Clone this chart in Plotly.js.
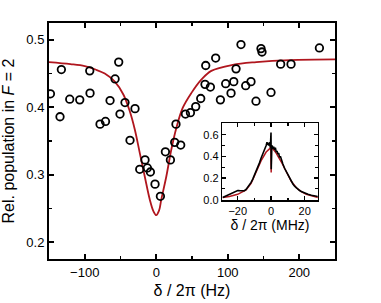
<!DOCTYPE html>
<html><head><meta charset="utf-8">
<script src="https://cdn.plot.ly/plotly-3.0.1.min.js"></script>
<style>body{margin:0;background:#fff}#chart{width:381px;height:303px}</style>
</head><body><div id="chart"></div>
<script>
// Main panel: measured points
const detuningHz = [-148, -134.6, -132.7, -121, -107, -93, -92.6, -78.6, -71, -64.6, -57.6, -52.5, -50.7, -43.7, -36.7, -29.7, -23.1, -15.7, -12.4, -8.2, -1.7, 5.8, 12.8, 19.8, 25.8, 27.6, 34.2, 40.8, 47.8, 55.2, 62.2, 68.2, 69.2, 75.7, 83.1, 89.7, 97.1, 104.6, 108.4, 111.6, 118.5, 125.1, 132.5, 139.5, 146.5, 147.9, 160.5, 174, 188.5, 228.2];
const populationF2 = [0.420, 0.386, 0.456, 0.412, 0.411, 0.454, 0.421, 0.375, 0.379, 0.410, 0.442, 0.467, 0.390, 0.407, 0.351, 0.398, 0.308, 0.322, 0.310, 0.304, 0.286, 0.268, 0.334, 0.322, 0.348, 0.375, 0.344, 0.390, 0.392, 0.401, 0.413, 0.434, 0.462, 0.430, 0.473, 0.411, 0.435, 0.421, 0.438, 0.457, 0.493, 0.432, 0.438, 0.409, 0.487, 0.482, 0.422, 0.464, 0.464, 0.488];
// Main panel: fit curve
const fitHz = [-150, -120, -100, -85, -72, -58, -46, -37, -30, -23, -16, -9, -4, 0, 4, 7, 14, 21, 28, 37, 49, 63, 77, 107, 140, 187, 250];
const fitPop = [0.467, 0.464, 0.461, 0.456, 0.450, 0.438, 0.419, 0.394, 0.367, 0.332, 0.297, 0.263, 0.246, 0.240, 0.247, 0.263, 0.297, 0.337, 0.369, 0.399, 0.421, 0.441, 0.454, 0.463, 0.467, 0.470, 0.471];
// Inset: measured spectrum
const insetMHz = [-29, -27, -25, -23, -21, -20, -19, -18, -17, -16, -15, -14, -13, -12, -11, -10, -9, -8, -7, -6, -5, -4, -3.5, -3, -2.5, -2, -1.5, -1, -0.5, -0.1, 0.05, 0.3, 0.6, 1, 1.5, 2, 2.5, 3, 3.5, 4, 4.5, 5, 5.5, 6, 6.5, 7, 8, 9, 10, 11, 12, 13, 14, 15, 16, 17, 18, 20, 22, 24, 26, 28];
const insetSignal = [0.02, 0.035, 0.05, 0.068, 0.082, 0.085, 0.084, 0.082, 0.08, 0.083, 0.095, 0.115, 0.135, 0.16, 0.19, 0.225, 0.265, 0.30, 0.34, 0.385, 0.42, 0.46, 0.47, 0.50, 0.53, 0.515, 0.50, 0.53, 0.48, 0.62, 0.28, 0.47, 0.50, 0.47, 0.49, 0.46, 0.48, 0.44, 0.45, 0.42, 0.43, 0.39, 0.40, 0.37, 0.36, 0.33, 0.29, 0.26, 0.225, 0.195, 0.17, 0.145, 0.125, 0.11, 0.095, 0.085, 0.075, 0.06, 0.05, 0.042, 0.035, 0.03];
// Inset: fit curve
const insetFitMHz = [-29, -25, -20, -17, -15, -12, -9, -6, -3, -1, -0.2, 0, 0.2, 1, 3, 6, 9, 12, 15, 18, 21, 25, 28];
const insetFit = [0.02, 0.03, 0.05, 0.07, 0.09, 0.15, 0.25, 0.36, 0.44, 0.47, 0.48, 0.25, 0.48, 0.47, 0.43, 0.35, 0.26, 0.17, 0.11, 0.075, 0.05, 0.03, 0.02];

const red = '#b0161e';
const font = 'Liberation Sans, Arial, sans-serif';

const traces = [
  {x: fitHz, y: fitPop, type: 'scatter', mode: 'lines', line: {color: red, width: 1.8, shape: 'spline', smoothing: 1}, xaxis: 'x', yaxis: 'y', hoverinfo: 'skip'},
  {x: detuningHz, y: populationF2, type: 'scatter', mode: 'markers', marker: {symbol: 'circle-open', size: 7.5, color: '#000', line: {width: 1.8, color: '#000'}}, xaxis: 'x', yaxis: 'y'},
  {x: insetFitMHz, y: insetFit, type: 'scatter', mode: 'lines', line: {color: red, width: 1.5}, xaxis: 'x2', yaxis: 'y2'},
  {x: insetMHz, y: insetSignal, type: 'scatter', mode: 'lines', line: {color: '#000', width: 1.6}, xaxis: 'x2', yaxis: 'y2'}
];

const axBase = {showgrid: false, zeroline: false, showline: true, linecolor: '#000', mirror: 'allticks', ticks: 'inside', tickcolor: '#000'};

const layout = {
  width: 381, height: 303,
  margin: {l: 49, r: 46, t: 23, b: 44},
  paper_bgcolor: '#fff', plot_bgcolor: '#fff',
  showlegend: false,
  font: {family: font, color: '#000', size: 13},
  xaxis: Object.assign({}, axBase, {
    range: [-150, 250], tick0: 0, dtick: 100, linewidth: 2, ticklen: 5, tickwidth: 2,
    minor: {dtick: 50, ticks: 'inside', ticklen: 3, tickwidth: 1.5, tickcolor: '#000'},
    tickfont: {size: 13, family: font},
    title: {text: 'δ / 2π (Hz)', font: {size: 16, family: font}, standoff: 6}
  }),
  yaxis: Object.assign({}, axBase, {
    range: [0.175, 0.525], tick0: 0, dtick: 0.1, tickformat: '.1f', linewidth: 2, ticklen: 5, tickwidth: 2,
    minor: {dtick: 0.05, ticks: 'inside', ticklen: 3, tickwidth: 1.5, tickcolor: '#000'},
    tickfont: {size: 13, family: font},
    title: {text: 'Rel. population in <i>F</i> = 2', font: {size: 16, family: font}, standoff: 8}
  }),
  xaxis2: Object.assign({}, axBase, {
    domain: [0.606, 0.9395], anchor: 'y2',
    range: [-29.2, 27.8], tick0: 0, dtick: 20, linewidth: 1.5, ticklen: 4, tickwidth: 1.5,
    minor: {dtick: 10, ticks: 'inside', ticklen: 2.5, tickwidth: 1.2, tickcolor: '#000'},
    tickfont: {size: 11, family: font},
    title: {text: 'δ / 2π (MHz)', font: {size: 14, family: font}, standoff: 3}
  }),
  yaxis2: Object.assign({}, axBase, {
    domain: [0.248, 0.576], anchor: 'x2',
    range: [-0.007, 0.707], tick0: 0, dtick: 0.2, tickformat: '.1f', linewidth: 1.5, ticklen: 4, tickwidth: 1.5,
    minor: {dtick: 0.1, ticks: 'inside', ticklen: 2.5, tickwidth: 1.2, tickcolor: '#000'},
    tickfont: {size: 11, family: font}
  })
};

Plotly.newPlot('chart', traces, layout, {displayModeBar: false, staticPlot: true});
</script>
</body></html>
